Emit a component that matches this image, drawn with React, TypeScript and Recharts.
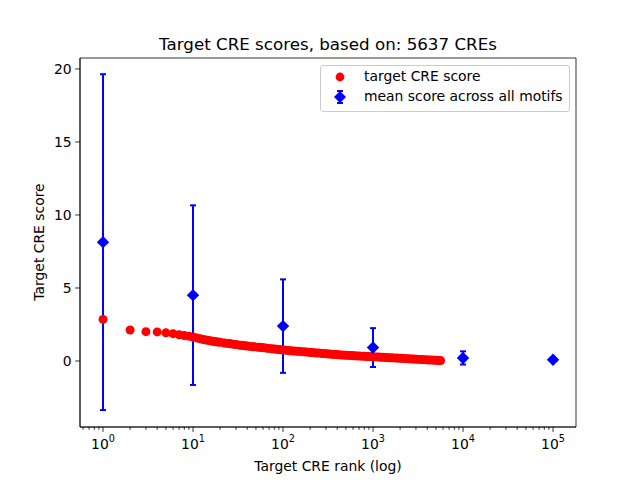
import { ErrorBar, ReferenceArea, Scatter, ScatterChart, XAxis, YAxis } from "recharts";

// target CRE score per rank (sampled along the curve)
const RANKS = [
  1, 2, 3, 4, 5, 6, 7, 8, 9, 10, 11, 12, 13, 14, 15, 16, 17, 18, 19, 20, 22, 23, 25, 26, 28, 30, 32,
  34, 36, 38, 40, 43, 46, 48, 52, 55, 58, 62, 66, 70, 75, 80, 85, 90, 95, 100, 107, 115, 122, 130,
  140, 150, 160, 170, 182, 195, 207, 220, 235, 250, 267, 285, 305, 325, 347, 370, 395, 420, 450, 480,
  512, 545, 582, 620, 660, 700, 750, 800, 855, 910, 955, 1000, 1075, 1150, 1225, 1300, 1400, 1500,
  1600, 1700, 1825, 1950, 2075, 2200, 2350, 2500, 2675, 2850, 3050, 3250, 3475, 3700, 3950, 4200,
  4500, 4800, 5050, 5300, 5470, 5637,
];
const SCORES = [
  2.85, 2.12, 2.01, 1.99, 1.93, 1.87, 1.8, 1.75, 1.7, 1.64, 1.58, 1.52, 1.47, 1.43, 1.4, 1.37, 1.34,
  1.32, 1.3, 1.28, 1.24, 1.22, 1.2, 1.18, 1.15, 1.13, 1.1, 1.08, 1.06, 1.04, 1.02, 1.0, 0.98, 0.97,
  0.95, 0.94, 0.92, 0.9, 0.88, 0.86, 0.84, 0.82, 0.8, 0.79, 0.77, 0.76, 0.74, 0.72, 0.7, 0.69, 0.67,
  0.66, 0.64, 0.63, 0.61, 0.6, 0.58, 0.57, 0.55, 0.54, 0.52, 0.51, 0.49, 0.48, 0.46, 0.45, 0.44,
  0.43, 0.41, 0.4, 0.39, 0.38, 0.37, 0.36, 0.35, 0.34, 0.33, 0.32, 0.31, 0.3, 0.295, 0.29, 0.28,
  0.27, 0.26, 0.25, 0.24, 0.23, 0.22, 0.21, 0.2, 0.19, 0.18, 0.17, 0.16, 0.15, 0.14, 0.13, 0.12,
  0.11, 0.1, 0.09, 0.08, 0.07, 0.06, 0.05, 0.045, 0.04, 0.035, 0.03,
];

// mean score across all motifs
const MEAN_RANKS = [1, 10, 100, 1000, 10000, 100000];
const MEANS = [8.14, 4.51, 2.39, 0.92, 0.21, 0.09];
const MEAN_ERRS = [11.5, 6.15, 3.2, 1.33, 0.45, 0.02];

const X_TICKS = [
  0.6, 0.7, 0.8, 0.9, 1, 2, 3, 4, 5, 6, 7, 8, 9, 10, 20, 30, 40, 50, 60, 70, 80, 90, 100, 200, 300,
  400, 500, 600, 700, 800, 900, 1000, 2000, 3000, 4000, 5000, 6000, 7000, 8000, 9000, 10000, 20000,
  30000, 40000, 50000, 60000, 70000, 80000, 90000, 100000,
];
const Y_TICKS = [0, 5, 10, 15, 20];

const X_DOMAIN: [number, number] = [0.555, 180000];
const Y_DOMAIN: [number, number] = [-4.52, 20.75];

const FONT = "DejaVu Sans, sans-serif";
const RED = "#ff0000";
const BLUE = "#0000ff";

const scoreData = RANKS.map((x, i) => ({ x, y: SCORES[i] }));
const meanData = MEAN_RANKS.map((x, i) => ({ x, y: MEANS[i], err: MEAN_ERRS[i] }));

const XTick = (props: any) => {
  const { x, y, payload } = props;
  const lg = Math.log10(payload.value);
  const exp = Math.round(lg);
  const major = Math.abs(lg - exp) < 1e-9;
  return (
    <g>
      <line x1={x} x2={x} y1={y} y2={y + (major ? 4.9 : 2.8)} stroke="#000" strokeWidth={0.8} />
      {major && (
        <text x={x} y={y + 22} textAnchor="middle" fontFamily={FONT} fontSize={13.9} fill="#000">
          10
          <tspan dy={-7} fontSize={9.7}>
            {exp}
          </tspan>
        </text>
      )}
    </g>
  );
};

const Dot = (props: any) => <circle cx={props.cx} cy={props.cy} r={4.5} fill={RED} />;

const Diamond = (props: any) => {
  const { cx, cy } = props;
  const s = 6.2;
  return <polygon points={`${cx},${cy - s} ${cx + s},${cy} ${cx},${cy + s} ${cx - s},${cy}`} fill={BLUE} />;
};

const abs = (style: React.CSSProperties): React.CSSProperties => ({
  position: "absolute",
  fontFamily: FONT,
  color: "#000",
  whiteSpace: "nowrap",
  ...style,
});

export default function App() {
  return (
    <div style={{ position: "absolute", left: 0, top: 0, width: 640, height: 480, background: "#fff" }}>
      <ScatterChart width={640} height={480} margin={{ top: 58, right: 64, bottom: 23, left: 30 }}>
        <XAxis
          dataKey="x"
          type="number"
          scale="log"
          domain={X_DOMAIN}
          ticks={X_TICKS}
          interval={0}
          allowDataOverflow
          height={30}
          tickSize={0}
          tickMargin={0}
          tickLine={false}
          tick={<XTick />}
          axisLine={{ stroke: "#000", strokeWidth: 0.8 }}
        />
        <YAxis
          dataKey="y"
          type="number"
          domain={Y_DOMAIN}
          ticks={Y_TICKS}
          allowDataOverflow
          width={50}
          tickSize={4.9}
          tickMargin={3.5}
          tickLine={{ stroke: "#000", strokeWidth: 0.8 }}
          axisLine={{ stroke: "#000", strokeWidth: 0.8 }}
          tick={{ fill: "#000", fontSize: 13.9, fontFamily: FONT }}
        />
        <ReferenceArea
          x1={X_DOMAIN[0]}
          x2={X_DOMAIN[1]}
          y1={Y_DOMAIN[0]}
          y2={Y_DOMAIN[1]}
          fill="none"
          stroke="#000"
          strokeWidth={0.8}
          fillOpacity={0}
        />
        <Scatter data={scoreData} shape={<Dot />} isAnimationActive={false} />
        <Scatter data={meanData} shape={<Diamond />} isAnimationActive={false}>
          <ErrorBar dataKey="err" direction="y" width={3} stroke={BLUE} strokeWidth={2} isAnimationActive={false} />
        </Scatter>
      </ScatterChart>

      <div style={abs({ left: 0, width: 656, top: 34, textAlign: "center", fontSize: 16.7 })}>
        Target CRE scores, based on: 5637 CREs
      </div>
      <div style={abs({ left: 0, width: 656, top: 458, textAlign: "center", fontSize: 13.9 })}>
        Target CRE rank (log)
      </div>
      <div
        style={abs({
          left: 39,
          top: 242,
          fontSize: 13.9,
          transform: "translate(-50%, -50%) rotate(-90deg)",
        })}
      >
        Target CRE score
      </div>

      <div
        style={abs({
          left: 320,
          top: 65,
          width: 248,
          height: 45,
          border: "1px solid #cccccc",
          borderRadius: 3,
          background: "rgba(255,255,255,0.8)",
          fontSize: 13.9,
        })}
      >
        <svg width={40} height={45} style={{ position: "absolute", left: 0, top: 0 }}>
          <circle cx={19} cy={11} r={4.4} fill={RED} />
          <line x1={19} x2={19} y1={25} y2={37} stroke={BLUE} strokeWidth={2} />
          <line x1={16} x2={22} y1={25} y2={25} stroke={BLUE} strokeWidth={2} />
          <line x1={16} x2={22} y1={37} y2={37} stroke={BLUE} strokeWidth={2} />
          <polygon points="19,25 25,31 19,37 13,31" fill={BLUE} />
        </svg>
        <div style={{ position: "absolute", left: 43, top: 2 }}>target CRE score</div>
        <div style={{ position: "absolute", left: 43, top: 22 }}>mean score across all motifs</div>
      </div>
    </div>
  );
}
